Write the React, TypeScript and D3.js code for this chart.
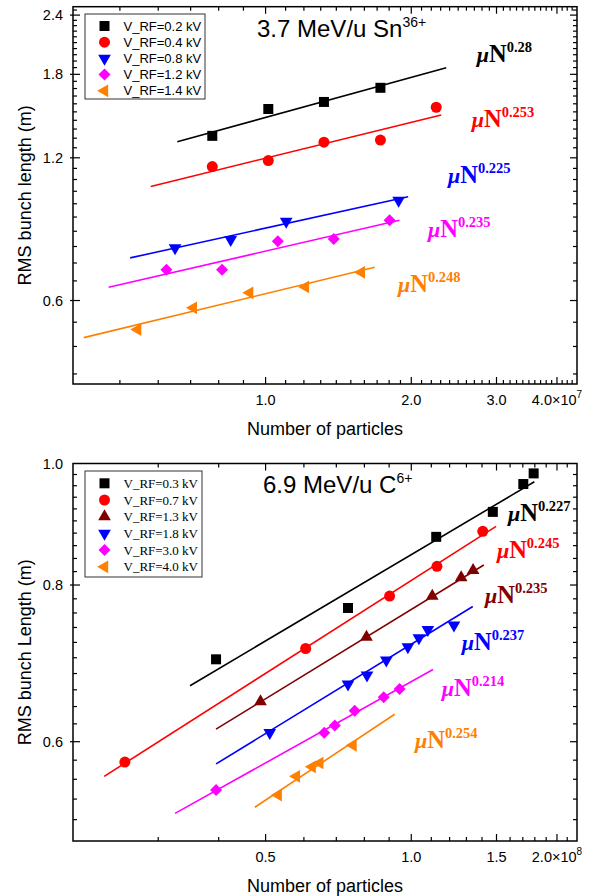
import React, { useRef, useEffect } from "react";
import * as d3 from "d3";

// ---- Panel (a): 3.7 MeV/u Sn36+, N in units of 1e7 ----
const snSeries = ["V_RF=0.2 kV", "V_RF=0.4 kV", "V_RF=0.8 kV", "V_RF=1.2 kV", "V_RF=1.4 kV"];
const snN = [
  [0.776, 1.013, 1.32, 1.727],
  [0.776, 1.013, 1.32, 1.727, 2.252],
  [0.65, 0.847, 1.103, 1.883],
  [0.624, 0.813, 1.06, 1.383, 1.804],
  [0.544, 0.709, 0.927, 1.209, 1.577],
];
const snL = [
  [1.335, 1.521, 1.574, 1.686],
  [1.15, 1.184, 1.295, 1.308, 1.534],
  [0.775, 0.806, 0.881, 0.976],
  [0.697, 0.697, 0.8, 0.809, 0.886],
  [0.521, 0.579, 0.623, 0.641, 0.688],
];
// fit lines (end points)
const snFitN = [[0.657, 2.362], [0.579, 2.306], [0.525, 1.97], [0.474, 1.891], [0.421, 1.68]];
const snFitL = [[1.297, 1.859], [1.044, 1.478], [0.738, 0.993], [0.64, 0.886], [0.501, 0.705]];
const snExp = ["0.28", "0.253", "0.225", "0.235", "0.248"];
const snLabelN = [2.73, 2.666, 2.381, 2.165, 1.877];
const snLabelL = [1.914, 1.396, 1.062, 0.817, 0.6255];
const snXTicks = [1, 2, 3, 4];
const snYTicks = [0.6, 1.2, 1.8, 2.4];

// ---- Panel (b): 6.9 MeV/u C6+, N in units of 1e8 ----
const cSeries = ["V_RF=0.3 kV", "V_RF=0.7 kV", "V_RF=1.3 kV", "V_RF=1.8 kV", "V_RF=3.0 kV", "V_RF=4.0 kV"];
const cN = [
  [0.395, 0.74, 1.126, 1.474, 1.704, 1.79],
  [0.256, 0.605, 0.902, 1.13, 1.405],
  [0.488, 0.808, 1.105, 1.268, 1.342],
  [0.51, 0.74, 0.81, 0.888, 0.984, 1.037, 1.082, 1.225],
  [0.395, 0.661, 0.695, 0.764, 0.877, 0.946],
  [0.531, 0.579, 0.624, 0.647, 0.758],
];
const cL = [
  [0.698, 0.767, 0.874, 0.915, 0.963, 0.982],
  [0.578, 0.712, 0.784, 0.828, 0.883],
  [0.646, 0.727, 0.784, 0.811, 0.822],
  [0.61, 0.667, 0.678, 0.697, 0.714, 0.726, 0.737, 0.743],
  [0.549, 0.61, 0.618, 0.635, 0.651, 0.661],
  [0.544, 0.563, 0.573, 0.577, 0.596],
];
const cFitN = [[0.349, 1.796], [0.232, 1.497], [0.395, 1.412], [0.395, 1.34], [0.325, 1.109], [0.475, 0.924]];
const cFitL = [[0.665, 0.967], [0.563, 0.891], [0.614, 0.83], [0.576, 0.769], [0.526, 0.685], [0.532, 0.631]];
const cExp = ["0.227", "0.245", "0.235", "0.237", "0.214", "0.254"];
const cLabelN = [1.584, 1.503, 1.42, 1.271, 1.156, 1.018];
const cLabelL = [0.899, 0.841, 0.774, 0.71, 0.652, 0.593];
const cXTicks = [0.5, 1.0, 1.5, 2.0];
const cYTicks = [0.6, 0.8, 1.0];

// styles
const snColors = ["#000000", "#ff0000", "#0000ff", "#ff00ff", "#ff8000"];
const snShapes = ["square", "circle", "triDown", "diamond", "triLeft"];
const cColors = ["#000000", "#ff0000", "#800000", "#0000ff", "#ff00ff", "#ff8000"];
const cShapes = ["square", "circle", "triUp", "triDown", "diamond", "triLeft"];

const SANS = "'Liberation Sans', Arial, sans-serif";
const SERIF = "'Liberation Serif', 'Times New Roman', serif";

const symbolFor = (shape) => {
  switch (shape) {
    case "square":
      return { d: d3.symbol().type(d3.symbolSquare).size(100)(), rot: 0 };
    case "circle":
      return { d: d3.symbol().type(d3.symbolCircle).size(95)(), rot: 0 };
    case "diamond":
      return { d: d3.symbol().type(d3.symbolSquare).size(72)(), rot: 45 };
    case "triUp":
      return { d: d3.symbol().type(d3.symbolTriangle).size(70)(), rot: 0 };
    case "triDown":
      return { d: d3.symbol().type(d3.symbolTriangle).size(70)(), rot: 180 };
    default:
      return { d: d3.symbol().type(d3.symbolTriangle).size(70)(), rot: -90 };
  }
};

const drawPanel = (root, p) => {
  const x = d3.scaleLog().domain(p.xDomain).range([73, 577]);
  const y = d3.scaleLog().domain(p.yDomain).range([p.bottom, p.top]);
  const g = root.append("g");

  // series: fit lines and markers
  const line = d3.line().x((d) => x(d[0])).y((d) => y(d[1]));
  p.fitN.forEach((fn, i) => {
    g.append("path")
      .attr("d", line(fn.map((n, k) => [n, p.fitL[i][k]])))
      .attr("fill", "none")
      .attr("stroke", p.colors[i])
      .attr("stroke-width", 1.6);
  });
  p.N.forEach((ns, i) => {
    const sym = symbolFor(p.shapes[i]);
    g.selectAll(null)
      .data(ns.map((n, k) => [n, p.L[i][k]]))
      .join("path")
      .attr("d", sym.d)
      .attr("fill", p.colors[i])
      .attr("transform", (d) => `translate(${x(d[0])},${y(d[1])}) rotate(${sym.rot})`);
  });

  // frame
  g.append("rect")
    .attr("x", 73)
    .attr("y", p.top)
    .attr("width", 504)
    .attr("height", p.bottom - p.top)
    .attr("fill", "none")
    .attr("stroke", "#000")
    .attr("stroke-width", 1.5);

  // ticks
  const ticks = g.append("g").attr("stroke", "#000").attr("stroke-width", 1.2);
  const [x0, x1] = p.xDomain;
  const [y0, y1] = p.yDomain;
  const xMinor = d3.range(x0, x1 + 1e-9, p.xMinorStep).filter((v) => v > x0 + 1e-9 && v < x1 - 1e-9);
  const yMinor = d3.range(p.yMinorStart, y1, p.yMinorStep).filter((v) => v > y0 && v < y1);
  xMinor.forEach((v) => {
    const major = p.xTicks.some((t) => Math.abs(t - v) < 1e-6);
    const len = major ? 7 : 4;
    ticks.append("line").attr("x1", x(v)).attr("x2", x(v)).attr("y1", p.bottom).attr("y2", p.bottom - len);
    ticks.append("line").attr("x1", x(v)).attr("x2", x(v)).attr("y1", p.top).attr("y2", p.top + len);
  });
  yMinor.forEach((v) => {
    const major = p.yTicks.some((t) => Math.abs(t - v) < 1e-6);
    const len = major ? 7 : 4;
    ticks.append("line").attr("x1", major ? 70 : 73).attr("x2", 73 + len).attr("y1", y(v)).attr("y2", y(v));
    ticks.append("line").attr("x1", 577).attr("x2", 577 - len).attr("y1", y(v)).attr("y2", y(v));
  });

  // tick labels
  p.xTicks.forEach((t, i) => {
    const txt = g
      .append("text")
      .attr("x", x(t))
      .attr("y", p.bottom + 21)
      .attr("text-anchor", "middle")
      .style("font-family", SANS)
      .style("font-size", "14.5px")
      .text(i === p.xTicks.length - 1 ? `${t.toFixed(1)}×10` : t.toFixed(1));
    if (i === p.xTicks.length - 1)
      txt.append("tspan").attr("dy", -7).style("font-size", "10px").text(p.xExp);
  });
  p.yTicks.forEach((t) => {
    g.append("text")
      .attr("x", 63)
      .attr("y", y(t) + 5)
      .attr("text-anchor", "end")
      .style("font-family", SANS)
      .style("font-size", "14.5px")
      .text(t.toFixed(1));
  });

  // axis titles
  g.append("text")
    .attr("x", 325)
    .attr("y", p.bottom + 51)
    .attr("text-anchor", "middle")
    .style("font-family", SANS)
    .style("font-size", "18px")
    .text("Number of particles");
  g.append("text")
    .attr("transform", `translate(31,${(p.top + p.bottom) / 2}) rotate(-90)`)
    .attr("text-anchor", "middle")
    .style("font-family", SANS)
    .style("font-size", "18px")
    .text(p.yTitle);

  // μN^k labels
  p.exps.forEach((e, i) => {
    const t = g
      .append("text")
      .attr("x", x(p.labelN[i]))
      .attr("y", y(p.labelL[i]))
      .attr("fill", p.colors[i])
      .style("font-family", SERIF)
      .style("font-weight", "bold");
    t.append("tspan").style("font-style", "italic").style("font-size", "22px").text("μ");
    t.append("tspan").style("font-size", "24.5px").text("N");
    t.append("tspan").attr("dy", -10).style("font-size", "14.5px").text(e);
  });

  // panel title
  const title = g
    .append("text")
    .attr("x", p.titleX)
    .attr("y", p.titleY)
    .style("font-family", SANS)
    .style("font-size", "24px")
    .text(p.title);
  title.append("tspan").attr("dy", -10).style("font-size", "14px").text(p.titleSup);

  // legend
  const lg = g.append("g");
  lg.append("rect")
    .attr("x", 85)
    .attr("y", p.legTop)
    .attr("width", p.legW)
    .attr("height", p.legH)
    .attr("fill", "#fff")
    .attr("stroke", "#333")
    .attr("stroke-width", 1);
  p.series.forEach((s, i) => {
    const cy = p.legTop + p.legRow0 + i * p.legStep;
    const sym = symbolFor(p.shapes[i]);
    lg.append("path")
      .attr("d", sym.d)
      .attr("fill", p.colors[i])
      .attr("transform", `translate(104.5,${cy}) rotate(${sym.rot})`);
    lg.append("text")
      .attr("x", 123.5)
      .attr("y", cy + 4.5)
      .style("font-family", p.legFont)
      .style("font-size", "13px")
      .text(s);
  });
};

const panelA = {
  xDomain: [0.4, 4.4],
  yDomain: [0.4, 2.5],
  top: 6.7,
  bottom: 384,
  xTicks: snXTicks,
  yTicks: snYTicks,
  xMinorStep: 0.1,
  yMinorStart: 0.42,
  yMinorStep: 0.06,
  xExp: "7",
  yTitle: "RMS bunch length (m)",
  N: snN,
  L: snL,
  fitN: snFitN,
  fitL: snFitL,
  exps: snExp,
  labelN: snLabelN,
  labelL: snLabelL,
  colors: snColors,
  shapes: snShapes,
  series: snSeries,
  title: "3.7 MeV/u Sn",
  titleSup: "36+",
  titleX: 257,
  titleY: 37,
  legTop: 14,
  legW: 120,
  legH: 85,
  legRow0: 12,
  legStep: 16.2,
  legFont: SANS,
};

const panelB = {
  xDomain: [0.2, 2.2],
  yDomain: [0.5, 1.0],
  top: 463.5,
  bottom: 841,
  xTicks: cXTicks,
  yTicks: cYTicks,
  xMinorStep: 0.1,
  yMinorStart: 0.52,
  yMinorStep: 0.02,
  xExp: "8",
  yTitle: "RMS bunch Length (m)",
  N: cN,
  L: cL,
  fitN: cFitN,
  fitL: cFitL,
  exps: cExp,
  labelN: cLabelN,
  labelL: cLabelL,
  colors: cColors,
  shapes: cShapes,
  series: cSeries,
  title: "6.9 MeV/u C",
  titleSup: "6+",
  titleX: 263,
  titleY: 493,
  legTop: 471,
  legW: 117,
  legH: 106,
  legRow0: 12.3,
  legStep: 16.7,
  legFont: SERIF,
};

export default function App() {
  const ref = useRef(null);
  useEffect(() => {
    document.body.style.margin = "0";
    const svg = d3.select(ref.current);
    svg.selectChildren().remove();
    drawPanel(svg, panelA);
    drawPanel(svg, panelB);
  }, []);
  return <svg ref={ref} width={596} height={896} style={{ display: "block", background: "#fff" }} />;
}
